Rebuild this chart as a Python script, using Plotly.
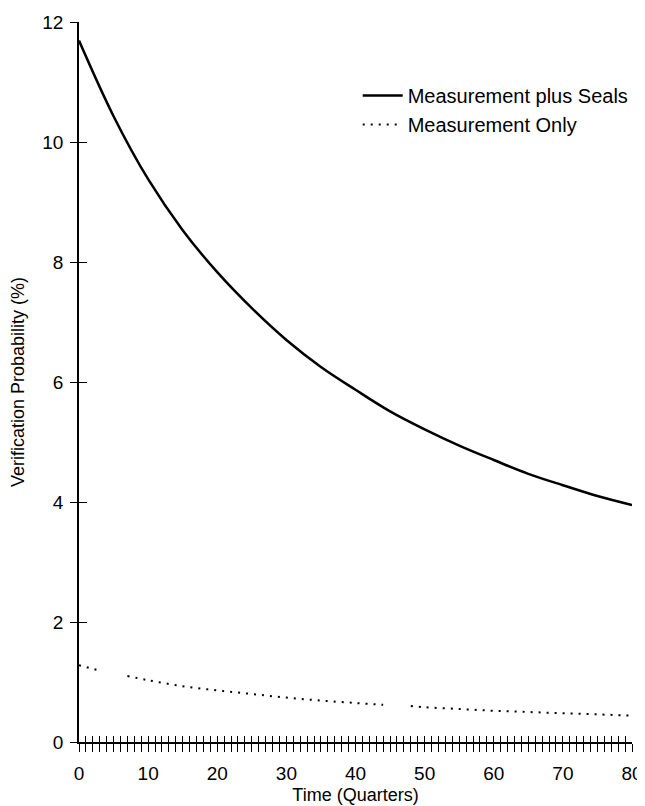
import plotly.graph_objects as go

# Data
quarters_solid = [0, 5, 10, 15, 20, 25, 30, 35, 40, 45, 50, 55, 60, 65, 70, 75, 80]
prob_seals = [11.69, 10.43, 9.38, 8.53, 7.83, 7.23, 6.70, 6.25, 5.87, 5.51, 5.21,
              4.94, 4.70, 4.47, 4.28, 4.10, 3.95]

quarters_dot = [0, 3, 5, 7, 10, 15, 20, 25, 30, 35, 40, 44, 46, 48, 50, 55, 60, 65, 70, 75, 80]
prob_meas = [1.28, 1.19, None, 1.10, 1.03, 0.93, 0.86, 0.80, 0.74, 0.69, 0.65, 0.62, None,
             0.60, 0.58, 0.55, 0.52, 0.50, 0.48, 0.46, 0.44]

x_ticks = [0, 10, 20, 30, 40, 50, 60, 70, 80]
y_ticks = [0, 2, 4, 6, 8, 10, 12]

FONT = "Liberation Sans, Arial, Helvetica, sans-serif"

fig = go.Figure()
fig.add_trace(go.Scatter(
    x=quarters_solid, y=prob_seals, mode="lines", name="Measurement plus Seals",
    line=dict(color="black", width=2.5, shape="spline"),
))
fig.add_trace(go.Scatter(
    x=quarters_dot, y=prob_meas, mode="lines", name="Measurement Only",
    line=dict(color="black", width=2.0, dash="2px,6px", shape="spline"),
    connectgaps=False,
))
# invisible trace to carry the overlay axes (inside ticks)
fig.add_trace(go.Scatter(
    x=[0], y=[0], xaxis="x2", yaxis="y2", mode="markers",
    marker=dict(opacity=0), showlegend=False, hoverinfo="skip",
))

# the page body has an 8px margin, so the figure is sized to fit the window
fig.update_layout(
    width=637, height=798,
    margin=dict(l=71, r=13, t=14, b=64, autoexpand=False),
    paper_bgcolor="white", plot_bgcolor="white",
    font=dict(family=FONT, color="black", size=18),
    showlegend=True,
    legend=dict(x=0.504, y=0.925, xanchor="left", yanchor="top",
                font=dict(family=FONT, size=20, color="black"),
                bgcolor="rgba(0,0,0,0)", tracegroupgap=0, itemwidth=40),
    xaxis=dict(
        range=[0, 80], tickvals=x_ticks, ticks="outside", ticklen=8, tickwidth=1.3,
        tickcolor="black", showline=True, linecolor="black", linewidth=1.6,
        showgrid=False, zeroline=False, tickfont=dict(size=19), automargin=False,
        ticklabelstandoff=5,
        minor=dict(dtick=1, ticks="outside", ticklen=8, tickwidth=1.3, tickcolor="black"),
        title=dict(text="Time (Quarters)", font=dict(size=18), standoff=6),
    ),
    yaxis=dict(
        range=[0, 12], tickvals=y_ticks, ticks="outside", ticklen=7, tickwidth=1.3,
        tickcolor="black", showline=True, linecolor="black", linewidth=1.6,
        showgrid=False, zeroline=False, tickfont=dict(size=19), ticklabelstandoff=3,
        automargin=False,
        title=dict(text="Verification Probability (%)", font=dict(size=18), standoff=15),
    ),
    xaxis2=dict(
        range=[0, 80], overlaying="x", anchor="y2", side="bottom", tickmode="linear",
        tick0=0, dtick=1, ticks="inside", ticklen=6, tickwidth=1.3, tickcolor="black",
        showticklabels=False, showgrid=False, zeroline=False, showline=False,
    ),
    yaxis2=dict(
        range=[0, 12], overlaying="y", anchor="x2", side="left", tickvals=y_ticks,
        ticks="inside", ticklen=8, tickwidth=1.3, tickcolor="black",
        showticklabels=False, showgrid=False, zeroline=False, showline=False,
    ),
)

fig.write_html("out.html")
